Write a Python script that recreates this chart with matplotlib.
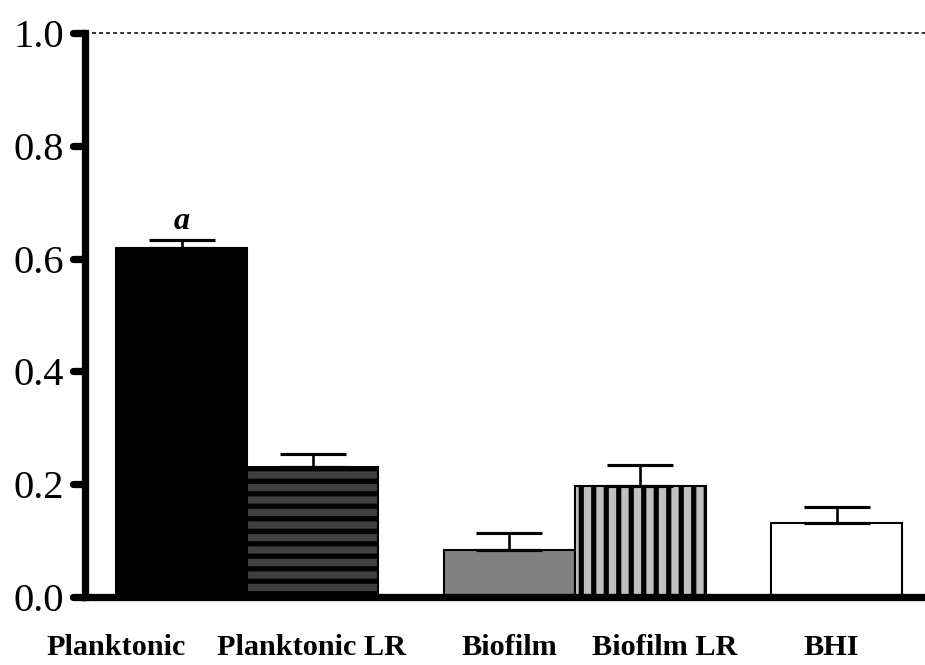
import matplotlib
matplotlib.use("Agg")
import matplotlib.pyplot as plt
import numpy as np

plt.rcParams['font.family'] = ['Liberation Serif', 'DejaVu Serif']
plt.rcParams['hatch.linewidth'] = 5.0

groups = ["Planktonic", "Planktonic LR", "Biofilm", "Biofilm LR", "BHI"]
means = [0.619, 0.230, 0.083, 0.197, 0.131]
errs = [0.014, 0.024, 0.030, 0.037, 0.029]
yticks = [0.0, 0.2, 0.4, 0.6, 0.8, 1.0]

xpos = [0, 1, 2.5, 3.5, 5]
label_x = [-0.5, 0.99, 2.5, 3.69, 4.96]
colors = ["black", "#404040", "#808080", "#c0c0c0", "white"]
hatches = [None, "-", None, "|", None]

DPI = 75
fig = plt.figure(figsize=(926 / DPI, 665 / DPI), dpi=DPI)
ax = fig.add_axes([85 / 926, 68 / 665, 841 / 926, 564 / 665])

for x, m, c, h in zip(xpos, means, colors, hatches):
    ax.bar(x, m, width=1.0, color=c, edgecolor="black", linewidth=2, hatch=h, zorder=2)

ax.errorbar(xpos, means, yerr=[np.zeros(len(errs)), errs], fmt="none",
            ecolor="black", elinewidth=2.5, capsize=32, capthick=3, zorder=3)

ax.text(xpos[0], means[0] + errs[0] + 0.033, "a", ha="center", va="center",
        fontsize=31, fontweight="bold", fontstyle="italic")

# dotted reference line at 1.0
ax.plot([-0.737, 5.683], [1.0, 1.0], color="black", lw=1.5,
        linestyle=(0, (2.5, 2)), clip_on=False, zorder=1)

ax.set_xlim(-0.737, 5.683)
ax.set_ylim(0, 1.0)

for s in ["top", "right"]:
    ax.spines[s].set_visible(False)
ax.spines["left"].set_linewidth(7)
ax.spines["bottom"].set_linewidth(7)
ax.spines["left"].set_zorder(4)
ax.spines["bottom"].set_zorder(4)

ax.set_xticks([])
ax.set_yticks(yticks)
ax.set_yticklabels(["%.1f" % t for t in yticks], fontsize=39)
ax.tick_params(axis="y", length=0, pad=20)

# rounded tick marks
for t in yticks:
    ax.plot([-0.83, -0.737], [t, t], color="black", lw=7,
            solid_capstyle="round", clip_on=False, zorder=5)

trans = ax.get_xaxis_transform()
for lx, g in zip(label_x, groups):
    ax.text(lx, -0.103, g, transform=trans, ha="center", va="baseline",
            fontsize=29, fontweight="bold")

fig.savefig("out.png", dpi=DPI)
